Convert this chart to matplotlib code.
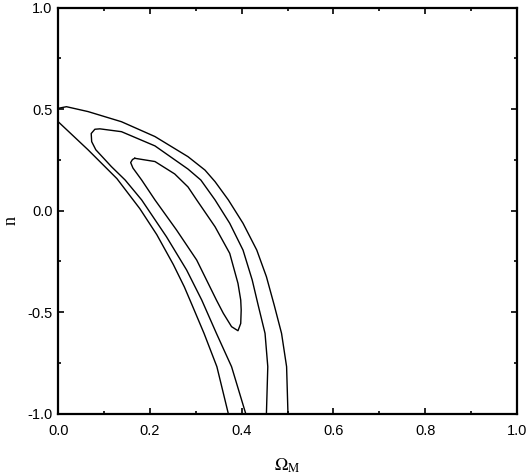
import matplotlib
matplotlib.use("Agg")
import matplotlib.pyplot as plt
from matplotlib.ticker import MultipleLocator

# Contour curves (Omega_M, n)
outer_upper_x = [0.000, 0.018, 0.065, 0.138, 0.211, 0.283, 0.320, 0.342, 0.371, 0.403, 0.433, 0.454, 0.471, 0.487, 0.498, 0.501]
outer_upper_y = [0.504, 0.512, 0.488, 0.438, 0.365, 0.266, 0.200, 0.143, 0.053, -0.062, -0.194, -0.325, -0.465, -0.604, -0.768, -1.000]

outer_lower_x = [0.000, 0.065, 0.128, 0.178, 0.215, 0.251, 0.275, 0.292, 0.318, 0.346, 0.371]
outer_lower_y = [0.438, 0.300, 0.158, 0.010, -0.118, -0.265, -0.375, -0.465, -0.604, -0.768, -1.000]

middle_x = [0.409, 0.378, 0.345, 0.313, 0.280, 0.236, 0.182, 0.146, 0.116, 0.082, 0.073, 0.072, 0.080, 0.091,
            0.138, 0.211, 0.283, 0.311, 0.342, 0.374, 0.403, 0.423, 0.436, 0.451, 0.457, 0.454]
middle_y = [-1.000, -0.768, -0.604, -0.440, -0.292, -0.128, 0.053, 0.151, 0.217, 0.300, 0.340, 0.380, 0.401, 0.403,
            0.389, 0.319, 0.205, 0.151, 0.053, -0.062, -0.194, -0.341, -0.465, -0.604, -0.768, -1.000]

inner_x = [0.167, 0.211, 0.254, 0.283, 0.302, 0.342, 0.374, 0.392, 0.398, 0.399, 0.398, 0.392, 0.378, 0.360,
           0.345, 0.302, 0.258, 0.211, 0.182, 0.163, 0.158, 0.162, 0.167]
inner_y = [0.258, 0.242, 0.181, 0.117, 0.053, -0.079, -0.210, -0.358, -0.440, -0.489, -0.555, -0.591, -0.571, -0.505,
           -0.440, -0.243, -0.095, 0.053, 0.151, 0.210, 0.237, 0.252, 0.258]

x_ticks = [0.0, 0.2, 0.4, 0.6, 0.8, 1.0]
y_ticks = [-1.0, -0.5, 0.0, 0.5, 1.0]

plt.rcParams['mathtext.fontset'] = 'stix'
plt.rcParams['font.family'] = ['Liberation Sans', 'DejaVu Sans']

fig = plt.figure(figsize=(5.29, 4.74), dpi=100)
ax = fig.add_axes([0.110, 0.127, 0.867, 0.857])

for xs, ys in [(outer_upper_x, outer_upper_y), (outer_lower_x, outer_lower_y),
               (middle_x, middle_y), (inner_x, inner_y)]:
    ax.plot(xs, ys, color='black', lw=1.0, solid_joinstyle='round')

ax.set_xlim(0, 1)
ax.set_ylim(-1, 1)
ax.set_xticks(x_ticks)
ax.set_yticks(y_ticks)
ax.set_xticklabels([f"{v:.1f}" for v in x_ticks])
ax.set_yticklabels([f"{v:.1f}" for v in y_ticks])
ax.xaxis.set_minor_locator(MultipleLocator(0.1))
ax.yaxis.set_minor_locator(MultipleLocator(0.25))
ax.tick_params(which='both', direction='in', top=True, right=True, width=1.2, labelsize=10.5)
ax.tick_params(which='major', length=4.5)
ax.tick_params(which='minor', length=2.5)
ax.tick_params(axis='x', which='major', pad=7)
ax.tick_params(axis='y', which='major', pad=4)
for s in ax.spines.values():
    s.set_linewidth(1.6)

ax.set_xlabel(r'$\Omega_{\mathrm{M}}$', fontsize=13)
ax.set_ylabel('n', fontsize=13, family='Liberation Serif')
ax.xaxis.set_label_coords(0.5, -0.105)
ax.yaxis.set_label_coords(-0.085, 0.475)

fig.savefig('out.png', dpi=100)
